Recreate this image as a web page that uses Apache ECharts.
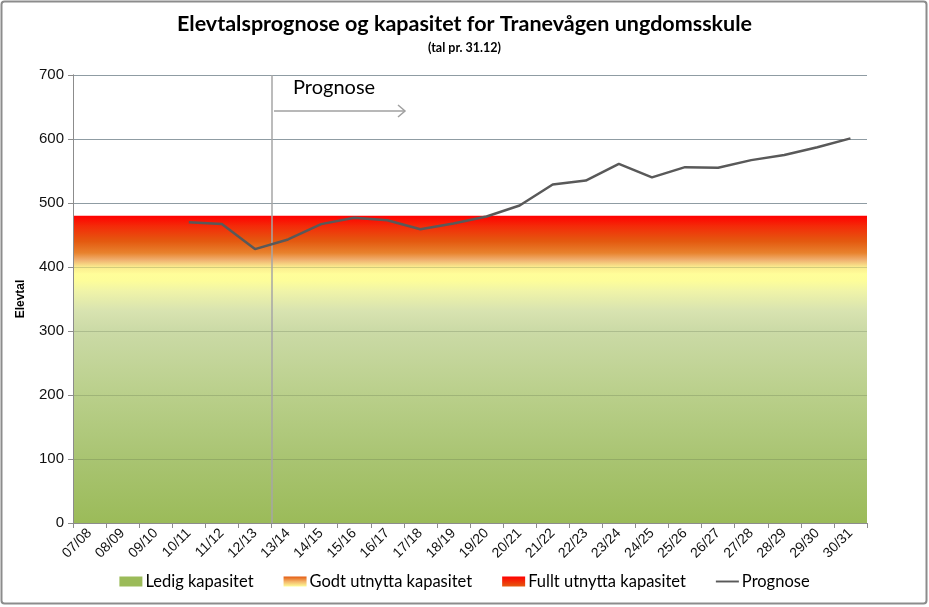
<!DOCTYPE html>
<html>
<head>
<meta charset="utf-8">
<script src="https://cdn.jsdelivr.net/npm/echarts@6/dist/echarts.min.js"></script>
<style>
  html, body { margin: 0; padding: 0; background: #fff; }
  #chart { width: 929px; height: 607px; }
</style>
</head>
<body>
<div id="chart"></div>
<script>
// school years on the x axis
const years = ['07/08', '08/09', '09/10', '10/11', '11/12', '12/13', '13/14', '14/15', '15/16', '16/17',
  '17/18', '18/19', '19/20', '20/21', '21/22', '22/23', '23/24', '24/25', '25/26', '26/27',
  '27/28', '28/29', '29/30', '30/31'];

// pupil forecast (no values before 10/11)
const prognose = [null, null, null, 470, 467, 428, 443, 467, 477, 473, 459, 468, 479, 496,
  529, 535, 561, 540, 556, 555, 567, 575, 587, 601];

// capacity bands: lower edge / upper edge in pupils
const bandNames = ['Ledig kapasitet', 'Godt utnytta kapasitet', 'Fullt utnytta kapasitet'];
const bandEdges = [0, 390, 440, 480];

// forecast starts after 12/13 (boundary index on the category scale)
const forecastStart = 6;

const yTicks = { min: 0, max: 700, step: 100 };

// colour stops inside each band, 0 = top edge of the band, 1 = bottom edge
const bandStops = [
  [[0, '#fffe99'], [0.03, '#fdfd9a'], [0.07, '#f0f4a8'], [0.15, '#d8e3b0'], [0.23, '#cbdaa6'],
    [0.49, '#b9cf8a'], [0.74, '#a9c472'], [1, '#9bbb59']],
  [[0, '#e45a10'], [0.36, '#e8822e'], [0.58, '#f0b070'], [0.8, '#faec8e'], [1, '#fffb98']],
  [[0, '#ff0000'], [0.4, '#f42a08'], [1, '#e45a10']]
];

// every band is an area from 0 to its top; the lower ones cover the rest,
// so the gradient is squeezed into the visible part
const bandFill = (i) => {
  const top = bandEdges[i + 1];
  const bottom = bandEdges[i];
  const span = (top - bottom) / top;
  const stops = bandStops[i].map(([o, c]) => ({ offset: o * span, color: c }));
  stops.push({ offset: 1, color: bandStops[i][bandStops[i].length - 1][1] });
  return new echarts.graphic.LinearGradient(0, 0, 0, 1, stops);
};

const legendFills = [
  '#9bbb59',
  new echarts.graphic.LinearGradient(0, 0, 0, 1, [
    { offset: 0, color: '#e45a10' }, { offset: 0.5, color: '#f3b468' }, { offset: 1, color: '#fefc98' }]),
  new echarts.graphic.LinearGradient(0, 0, 0, 1, [
    { offset: 0, color: '#ff0000' }, { offset: 1, color: '#e45a10' }])
];

const chart = echarts.init(document.getElementById('chart'));

const bandSeries = bandNames.map((name, i) => ({
  name: name,
  type: 'line',
  xAxisIndex: 1,
  symbol: 'none',
  silent: true,
  lineStyle: { width: 0 },
  itemStyle: { color: legendFills[i] },
  areaStyle: { color: bandFill(i), opacity: 1 },
  z: 1 + (bandNames.length - i) * 0.1,
  data: [[0, bandEdges[i + 1]], [years.length, bandEdges[i + 1]]]
}));

const option = {
  animation: false,
  backgroundColor: '#fff',
  title: [
    {
      text: 'Elevtalsprognose og kapasitet for Tranevågen ungdomsskule',
      left: 'center',
      top: 8,
      textStyle: { fontFamily: 'Lato', fontWeight: 'bold', fontSize: 21.5, color: '#000' }
    },
    {
      text: '(tal pr. 31.12)',
      left: 'center',
      top: 36,
      textStyle: { fontFamily: 'Lato', fontWeight: 'bold', fontSize: 12.5, color: '#000' }
    }
  ],
  legend: {
    bottom: 12,
    left: 'center',
    itemGap: 30,
    itemWidth: 23,
    itemHeight: 10,
    textStyle: { fontFamily: 'Lato', fontSize: 16.5, color: '#000', padding: [0, 0, 0, -2] },
    data: [
      { name: bandNames[0], icon: 'rect', itemStyle: { color: legendFills[0] } },
      { name: bandNames[1], icon: 'rect', itemStyle: { color: legendFills[1] } },
      { name: bandNames[2], icon: 'rect', itemStyle: { color: legendFills[2] } },
      { name: 'Prognose', icon: 'path://M0,0 L24,0 L24,2 L0,2 Z', itemStyle: { color: '#595959' } }
    ]
  },
  grid: { left: 73, right: 62, top: 75, bottom: 84 },
  xAxis: [
    {
      type: 'category',
      data: years,
      boundaryGap: true,
      axisLine: { lineStyle: { color: '#8c8c8c', width: 1 } },
      axisTick: { show: true, length: 5, lineStyle: { color: '#8c8c8c' } },
      axisLabel: {
        interval: 0,
        rotate: 45,
        margin: 8,
        fontFamily: 'Liberation Sans',
        fontSize: 14,
        color: '#111'
      },
      splitLine: { show: false },
      z: 3
    },
    {
      type: 'value',
      min: 0,
      max: years.length,
      show: false
    }
  ],
  yAxis: [
    {
      type: 'value',
      min: yTicks.min,
      max: yTicks.max,
      interval: yTicks.step,
      name: 'Elevtal',
      nameLocation: 'middle',
      nameGap: 46,
      nameRotate: 90,
      nameTextStyle: { fontFamily: 'Liberation Sans', fontWeight: 'bold', fontSize: 12, color: '#000' },
      axisLine: { show: true, lineStyle: { color: '#8c8c8c' } },
      axisTick: { show: true, length: 5, lineStyle: { color: '#8c8c8c' } },
      axisLabel: { fontFamily: 'Liberation Sans', fontSize: 15, color: '#111', margin: 9 },
      splitLine: { show: true, lineStyle: { color: '#a4b0c0', width: 1 } },
      z: 0
    },
    {
      // same scale again, only to lay faint gridlines over the capacity bands
      type: 'value',
      position: 'left',
      min: yTicks.min,
      max: yTicks.max,
      interval: yTicks.step,
      axisLine: { show: true, lineStyle: { color: '#8c8c8c' } },
      axisTick: { show: false },
      axisLabel: { show: false },
      splitLine: { show: true, lineStyle: { color: 'rgba(70,85,60,0.22)', width: 1 } },
      z: 3
    }
  ],
  series: [
    ...bandSeries,
    {
      name: 'Prognose',
      type: 'line',
      data: prognose,
      symbol: 'none',
      connectNulls: false,
      lineStyle: { color: '#595959', width: 2.5 },
      itemStyle: { color: '#595959' },
      z: 5
    },
    {
      name: 'forecastMarker',
      type: 'line',
      xAxisIndex: 1,
      data: [],
      silent: true,
      z: 4,
      markLine: {
        silent: true,
        symbol: ['none', 'none'],
        label: { show: false },
        lineStyle: { color: '#a6a6a6', width: 1.5, type: 'solid' },
        data: [{ xAxis: forecastStart }]
      }
    }
  ],
  graphic: [
    {
      type: 'rect',
      shape: { x: 1.5, y: 1.5, width: 925, height: 602, r: 3 },
      style: { fill: 'none', stroke: '#8c8c8c', lineWidth: 2 },
      silent: true
    },
    {
      type: 'text',
      left: 293,
      top: 78,
      style: { text: 'Prognose', fontFamily: 'Lato', fontSize: 20, fill: '#000' }
    },
    {
      type: 'polyline',
      shape: { points: [[274, 111], [405, 111]] },
      style: { stroke: '#a0a0a0', lineWidth: 1.5, fill: 'none' }
    },
    {
      type: 'polyline',
      shape: { points: [[398, 105], [405, 111], [398, 117]] },
      style: { stroke: '#a0a0a0', lineWidth: 1.5, fill: 'none' }
    }
  ]
};

chart.setOption(option);
</script>
</body>
</html>
